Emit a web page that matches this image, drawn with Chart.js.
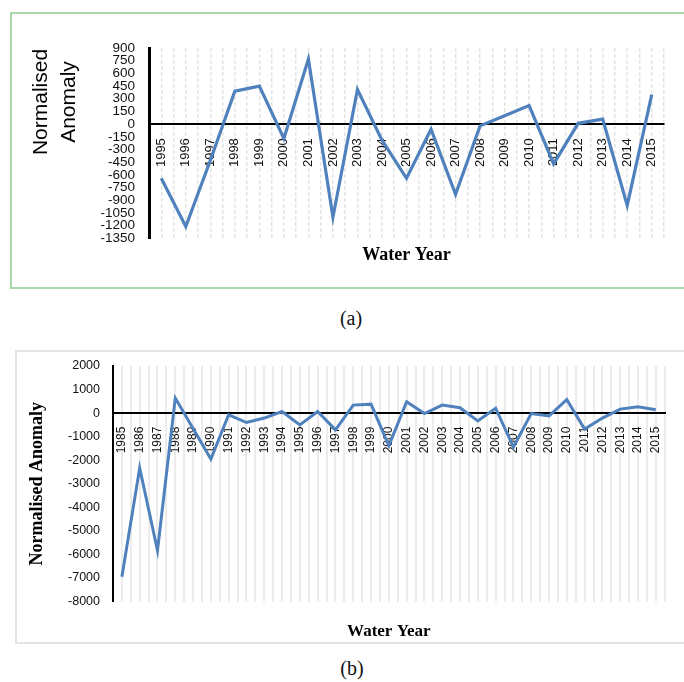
<!DOCTYPE html>
<html>
<head>
<meta charset="utf-8">
<script src="https://cdn.jsdelivr.net/npm/chart.js@4.4.1/dist/chart.umd.min.js"></script>
<style>
  body { margin: 0; background: #fff; }
  #page { position: relative; width: 684px; height: 682px; overflow: hidden; background: #fff; }
  #boxA { position: absolute; left: 10px; top: 12px; width: 680px; height: 273px; border: 2px solid #a9d7a9; }
  #boxB { position: absolute; left: 15px; top: 350px; width: 680px; height: 290px; border: 2px solid #e4e4e4; }
  canvas { position: absolute; left: 0; top: 0; }
  #titleA { position: absolute; left: -6px; top: 74px; width: 120px; height: 56px; line-height: 28px;
            text-align: center; font-family: 'Liberation Sans', sans-serif; font-size: 21px; color: #000;
            transform: rotate(-90deg); }
  .caption { position: absolute; width: 60px; text-align: center; font-family: 'Liberation Serif', serif;
             font-size: 20px; line-height: 24px; color: #111; }
</style>
</head>
<body>
<div id="page">
  <div id="boxA"><canvas id="chartA" width="672" height="273"></canvas></div>
  <div id="titleA">Normalised<br>Anomaly</div>
  <div class="caption" style="left:321px; top:306px;">(a)</div>
  <div id="boxB"><canvas id="chartB" width="667" height="290"></canvas></div>
  <div class="caption" style="left:322px; top:656px;">(b)</div>
</div>
<script>
"use strict";

// (a) water years 1995-2015
var yearsA = ['1995', '1996', '1997', '1998', '1999', '2000', '2001', '2002', '2003', '2004', '2005',
              '2006', '2007', '2008', '2009', '2010', '2011', '2012', '2013', '2014', '2015'];
var anomalyA = [-640, -1210, -430, 390, 450, -170, 770, -1100, 410, -190, -640,
                -60, -830, -20, 100, 220, -470, 10, 60, -960, 350];
var ticksA = [-1350, -1200, -1050, -900, -750, -600, -450, -300, -150, 0, 150, 300, 450, 600, 750, 900];

// (b) water years 1985-2015
var yearsB = ['1985', '1986', '1987', '1988', '1989', '1990', '1991', '1992', '1993', '1994', '1995',
              '1996', '1997', '1998', '1999', '2000', '2001', '2002', '2003', '2004', '2005', '2006',
              '2007', '2008', '2009', '2010', '2011', '2012', '2013', '2014', '2015'];
var anomalyB = [-6950, -2330, -5830, 640, -650, -1950, -70, -400, -210, 70, -500,
                70, -710, 340, 380, -1390, 480, -20, 340, 230, -330, 210,
                -1440, -20, -120, 570, -680, -210, 170, 270, 140];
var ticksB = [-8000, -7000, -6000, -5000, -4000, -3000, -2000, -1000, 0, 1000, 2000];

var lineColor = '#4f81bd';

function fixedTicks(values) {
    return function (scale) {
        scale.ticks = values.map(function (v) { return { value: v }; });
    };
}

// plain numbers, no thousands separator
function plainLabel(value) {
    return String(value);
}

var chartA = new Chart(document.getElementById('chartA').getContext('2d'), {
    type: 'line',
    data: {
        labels: yearsA,
        datasets: [{
            data: anomalyA,
            borderColor: lineColor,
            borderWidth: 3.2,
            pointRadius: 0,
            tension: 0,
            fill: false
        }]
    },
    options: {
        responsive: false,
        animation: false,
        layout: { padding: { left: 0, right: 20, top: 34, bottom: 21 } },
        plugins: { legend: { display: false }, tooltip: { enabled: false } },
        scales: {
            x: {
                type: 'category',
                position: { y: 0 },
                offset: true,
                grid: { color: '#e4e4e4', lineWidth: 1.5, drawTicks: false },
                border: { color: '#000', width: 2, dash: [4, 2] },
                ticks: {
                    autoSkip: false, minRotation: 90, maxRotation: 90, padding: 14,
                    color: '#111', font: { family: 'Liberation Sans', size: 13 }
                }
            },
            x2: {
                type: 'category',
                position: 'bottom',
                offset: true,
                grid: { offset: true, color: '#e4e4e4', lineWidth: 1.5, drawTicks: false },
                border: { display: false, dash: [4, 2] },
                ticks: { display: false },
                title: {
                    display: true, text: 'Water Year', color: '#000',
                    font: { family: 'Liberation Serif', size: 18, weight: 'bold' },
                    padding: { top: 6, bottom: 0 }
                }
            },
            y: {
                min: -1350,
                max: 900,
                afterBuildTicks: fixedTicks(ticksA),
                afterFit: function (scale) { scale.width = 137; },
                grid: { display: true, drawOnChartArea: false, drawTicks: true, tickLength: 11, color: 'rgba(0,0,0,0)' },
                border: { color: '#000', width: 3 },
                ticks: {
                    autoSkip: false, padding: 3, color: '#111', callback: plainLabel,
                    font: { family: 'Liberation Sans', size: 13.5 }
                }
            }
        }
    }
});

var chartB = new Chart(document.getElementById('chartB').getContext('2d'), {
    type: 'line',
    data: {
        labels: yearsB,
        datasets: [{
            data: anomalyB,
            borderColor: lineColor,
            borderWidth: 3,
            pointRadius: 0,
            tension: 0,
            fill: false
        }]
    },
    options: {
        responsive: false,
        animation: false,
        layout: { padding: { left: 0, right: 7, top: 14, bottom: 0 } },
        plugins: { legend: { display: false }, tooltip: { enabled: false } },
        scales: {
            x: {
                type: 'category',
                position: { y: 0 },
                offset: true,
                grid: { color: '#ececec', lineWidth: 2, drawTicks: false },
                border: { color: '#000', width: 2 },
                ticks: {
                    autoSkip: false, minRotation: 90, maxRotation: 90, padding: 13.5,
                    color: '#111', font: { family: 'Liberation Sans', size: 12 }
                }
            },
            x2: {
                type: 'category',
                position: 'bottom',
                offset: true,
                grid: { offset: true, color: '#ececec', lineWidth: 2, drawTicks: false },
                border: { display: false },
                ticks: { display: false },
                title: {
                    display: true, text: 'Water Year', color: '#000',
                    font: { family: 'Liberation Serif', size: 17, weight: 'bold' },
                    padding: { top: 20, bottom: 0 }
                }
            },
            y: {
                min: -8000,
                max: 2000,
                afterBuildTicks: fixedTicks(ticksB),
                afterFit: function (scale) { scale.width = 96; },
                grid: { display: true, drawOnChartArea: false, drawTicks: true, tickLength: 10, color: 'rgba(0,0,0,0)' },
                border: { color: '#000', width: 2 },
                title: {
                    display: true, text: 'Normalised Anomaly', color: '#000',
                    font: { family: 'Liberation Serif', size: 18, weight: 'bold' },
                    padding: { top: 10, bottom: 0 }
                },
                ticks: {
                    autoSkip: false, padding: 3, color: '#111', callback: plainLabel,
                    font: { family: 'Liberation Sans', size: 12.5 }
                }
            }
        }
    }
});
</script>
</body>
</html>
